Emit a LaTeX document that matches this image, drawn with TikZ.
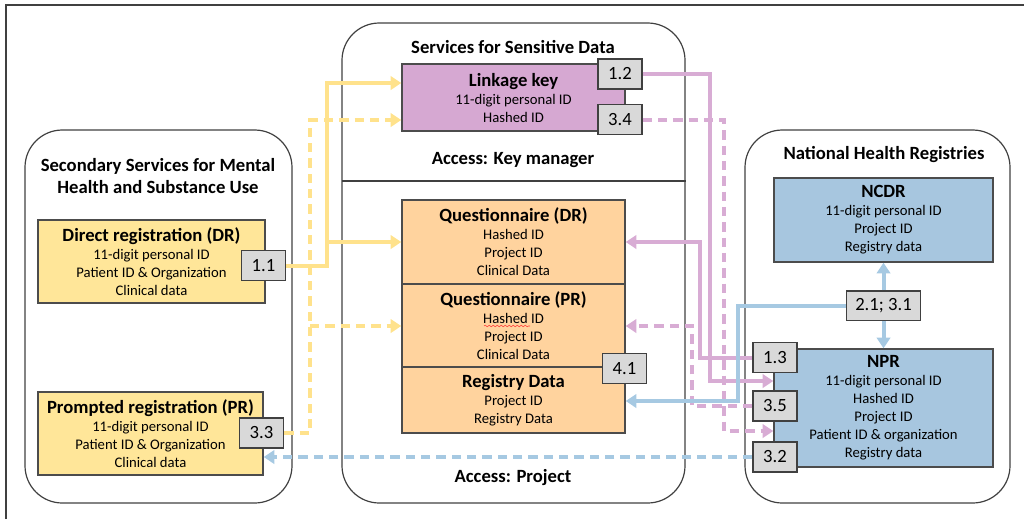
\documentclass[tikz,border=0pt]{standalone}
\usepackage{fontspec}
\setmainfont{Carlito}
\usepackage{tikz}
\usetikzlibrary{fit,arrows.meta,decorations.pathmorphing}
\tikzset{every picture/.style={line width=0.75pt}}

\definecolor{regyellow}{RGB}{255,230,153}
\definecolor{keypink}{RGB}{214,168,210}
\definecolor{projorange}{RGB}{255,211,158}
\definecolor{nhrblue}{RGB}{167,198,223}
\definecolor{numgray}{RGB}{217,217,217}
\definecolor{ylwflow}{RGB}{255,226,140}
\definecolor{pnkflow}{RGB}{216,172,212}
\definecolor{bluflow}{RGB}{166,201,226}
\newcommand{\boxfont}{\fontsize{14}{13.5}\selectfont\bfseries}

\begin{document}
\begin{tikzpicture}[x=0.75pt,y=0.75pt,yscale=-1,xscale=1,
  container/.style={draw=black!75, line width=0.9pt, rounded corners=28pt, inner sep=0pt},
  regbox/.style={draw=black!70, line width=1pt, inner sep=0pt},
  numbox/.style={draw=black!75, fill=numgray, line width=1pt, minimum width=33pt, minimum height=22.5pt, inner sep=0pt, font=\fontsize{14}{15}\selectfont},
  title/.style={align=center, font=\fontsize{14}{16.5}\selectfont\bfseries},
  boxtext/.style={align=center, font=\fontsize{11}{13.5}\selectfont},
  flow/.style={line width=3pt, -{Triangle[length=8pt,width=10pt]}},
  dashes/.style={dash pattern=on 7pt off 4.5pt},
  ylwline/.style={draw=ylwflow},
  pnkline/.style={draw=pnkflow},
  bluline/.style={draw=bluflow}]
\useasboundingbox (0,0) rectangle (1024,519);
%frame
\draw [black!75, line width=1.1pt] (6,519) -- (6,5) -- (1024,5) ;

%Containers
\node [container, fit={(25,130) (292,503)}] (secsvc) {};
\node [container, fit={(342,23) (685,503)}] (tsd) {};
\node [container, fit={(745,130) (1010,503)}] (nhr) {};
\coordinate (dv) at (342,181);
\draw [black!75, line width=0.9pt] (dv) -- (tsd.east |- dv) ;

% Text Node
\node [title] (sectitle) at (158,176) {Secondary Services for Mental\\Health and Substance Use};
\node [title] (tsdtitle) at (513,47) {Services for Sensitive Data};
\node [title] (keyacc) at (513,160) {Access: Key manager};
\node [title] (projacc) at (513,478) {Access: Project};
\node [title] (nhrtitle) at (884,155) {National Health Registries};

%Registration boxes
\node [regbox, fill=regyellow, fit={(38,220) (265,303)}] (dr) {};
\node [boxtext] (drtext) at (dr.center) {{\boxfont Direct registration (DR)}\\11-digit personal ID\\Patient ID \& Organization\\Clinical data};
\node [regbox, fill=regyellow, fit={(38,392) (263,475)}] (pr) {};
\node [boxtext] (prtext) at (pr.center) {{\boxfont Prompted registration (PR)}\\11-digit personal ID\\Patient ID \& Organization\\Clinical data};

%Linkage key and project data
\node [regbox, fill=keypink, fit={(402,64) (625,131)}] (lk) {};
\node [boxtext] (lktext) at (lk.center) {{\boxfont Linkage key}\\11-digit personal ID\\Hashed ID};
\node [regbox, fill=projorange, fit={(402,200) (625,284)}] (qdr) {};
\node [boxtext] (qdrtext) at (qdr.center) {{\boxfont Questionnaire (DR)}\\Hashed ID\\Project ID\\Clinical Data};
\node [regbox, fill=projorange, fit={(402,284) (625,367)}] (qpr) {};
\node [boxtext] (qprtext) at (qpr.center) {{\boxfont Questionnaire (PR)}\\Hashed ID\\Project ID\\Clinical Data};
\node [regbox, fill=projorange, fit={(402,367) (625,433)}] (reg) {};
\node [boxtext] (regtext) at (reg.center) {{\boxfont Registry Data}\\Project ID\\Registry Data};
\draw [red!80, line width=0.4pt, decorate, decoration={snake, amplitude=0.6pt, segment length=3pt}] (484,326) -- (530,326) ;

%Registries
\node [regbox, fill=nhrblue, fit={(774,178) (993,262)}] (ncdr) {};
\node [boxtext] (ncdrtext) at (ncdr.center) {{\boxfont NCDR}\\11-digit personal ID\\Project ID\\Registry data};
\node [regbox, fill=nhrblue, fit={(774,349) (993,467)}] (npr) {};
\node [boxtext] (nprtext) at (npr.center) {{\boxfont NPR}\\11-digit personal ID\\Hashed ID\\Project ID\\Patient ID \& organization\\Registry data};

%Step numbers
\node [numbox] (n11) at (263.5,265.5) {1.1};
\node [numbox] (n33) at (261.5,433) {3.3};
\node [numbox] (n12) at (620,74) {1.2};
\node [numbox] (n34) at (620,119.5) {3.4};
\node [numbox] (n41) at (624.5,368.5) {4.1};
\node [numbox, minimum width=55.5pt, minimum height=22pt] (n21) at (883.5,305.5) {2.1; 3.1};
\node [numbox] (n13) at (775,357.5) {1.3};
\node [numbox] (n35) at (775,406) {3.5};
\node [numbox] (n32) at (775,457) {3.2};

%bends
\coordinate (ya) at (327,83);
\coordinate (yb) at (327,242);
\coordinate (yc) at (310,120);
\coordinate (yd) at (310,326);
\coordinate (pa) at (710,381);
\coordinate (pb) at (724,431);
\coordinate (pc) at (700,242);
\coordinate (pd) at (692,326);
\coordinate (ba) at (738,401);

%Straight Lines
\draw [flow, ylwline] (n11.east) -| (ya) -- (lk.west |- ya) ;
\draw [flow, ylwline] (yb) -- (qdr.west |- yb) ;
\draw [flow, ylwline, dashes] (n33.east) -| (yc) -- (lk.west |- yc) ;
\draw [flow, ylwline, dashes] (yd) -- (qpr.west |- yd) ;

\draw [flow, pnkline] (n12.east) -| (pa) -- (npr.west |- pa) ;
\draw [flow, pnkline, dashes] (n34.east) -| (pb) -- (npr.west |- pb) ;
\draw [flow, pnkline] (n13.west) -| (pc) -- (qdr.east |- pc) ;
\draw [flow, pnkline, dashes] (n35.west) -| (pd) -- (qpr.east |- pd) ;

\draw [flow, bluline] (n21.west) -| (ba) -- (reg.east |- ba) ;
\draw [flow, bluline, dashes] (n32.west) -- (pr.east |- n32.west) ;
\draw [flow, bluline] (n21.north) -- (ncdr.south) ;
\draw [flow, bluline] (n21.south) -- (npr.north) ;
\end{tikzpicture}
\end{document}
